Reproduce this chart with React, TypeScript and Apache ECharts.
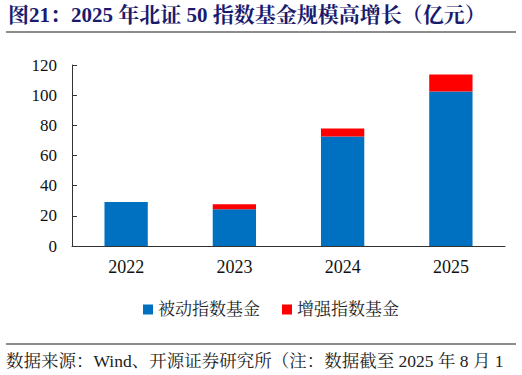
import React, { useEffect, useRef } from "react";
import * as echarts from "echarts";

const categories = ["2022", "2023", "2024", "2025"];
const passiveValues = [29.1, 24.3, 72.6, 102.4];
const enhancedValues = [0, 3.3, 5.3, 11.3];
const seriesNames = ["被动指数基金", "增强指数基金"];
const titleText = "图21：2025 年北证 50 指数基金规模高增长（亿元）";
const sourceText = "数据来源：Wind、开源证券研究所（注：数据截至 2025 年 8 月 1";

const SERIF = '"Liberation Serif", "Times New Roman", "Noto Serif CJK SC", "Noto Sans CJK SC", serif';

export default function App() {
  const ref = useRef<HTMLDivElement>(null);
  useEffect(() => {
    if (!ref.current) return;
    const chart = echarts.init(ref.current, undefined, { renderer: "svg" });
    chart.setOption({
      animation: false,
      backgroundColor: "#ffffff",
      grid: { left: 72, right: 17, top: 65, bottom: 129 },
      legend: {
        left: 138,
        top: 296,
        itemWidth: 10,
        itemHeight: 10,
        itemGap: 22,
        icon: "rect",
        textStyle: { fontSize: 17, color: "#222", fontFamily: SERIF, padding: [0, 0, 0, 0] },
        data: seriesNames,
      },
      xAxis: {
        type: "category",
        data: categories,
        axisLine: { lineStyle: { color: "#333", width: 1 } },
        axisTick: { inside: true, length: 5, lineStyle: { color: "#333" } },
        axisLabel: { fontSize: 18, color: "#111", fontFamily: SERIF, margin: 12 },
      },
      yAxis: {
        type: "value",
        min: 0,
        max: 120,
        interval: 20,
        axisLine: { show: true, lineStyle: { color: "#333", width: 1 } },
        axisTick: { show: true, inside: true, length: 5, lineStyle: { color: "#333" } },
        splitLine: { show: false },
        axisLabel: { fontSize: 17, color: "#111", fontFamily: SERIF, margin: 15 },
      },
      series: [
        {
          name: seriesNames[0],
          type: "bar",
          stack: "total",
          barWidth: "40%",
          data: passiveValues,
          itemStyle: { color: "#0070C0" },
        },
        {
          name: seriesNames[1],
          type: "bar",
          stack: "total",
          barWidth: "40%",
          data: enhancedValues,
          itemStyle: { color: "#FF0000" },
        },
      ],
      graphic: [
        {
          type: "text",
          left: 8,
          top: 4,
          style: {
            text: titleText,
            font: `bold 21px ${SERIF}`,
            fill: "#1B1B6E",
          },
        },
        {
          type: "line",
          shape: { x1: 6, y1: 32, x2: 516, y2: 32 },
          style: { stroke: "#666", lineWidth: 1.5 },
        },
        {
          type: "line",
          shape: { x1: 6, y1: 344, x2: 516, y2: 344 },
          style: { stroke: "#666", lineWidth: 1.5 },
        },
        {
          type: "text",
          left: 6,
          top: 352,
          style: {
            text: sourceText,
            font: `17.5px ${SERIF}`,
            fill: "#222",
          },
        },
      ],
    });
    return () => chart.dispose();
  }, []);
  return <div ref={ref} style={{ width: 522, height: 375, position: "absolute", left: 0, top: 0 }} />;
}
